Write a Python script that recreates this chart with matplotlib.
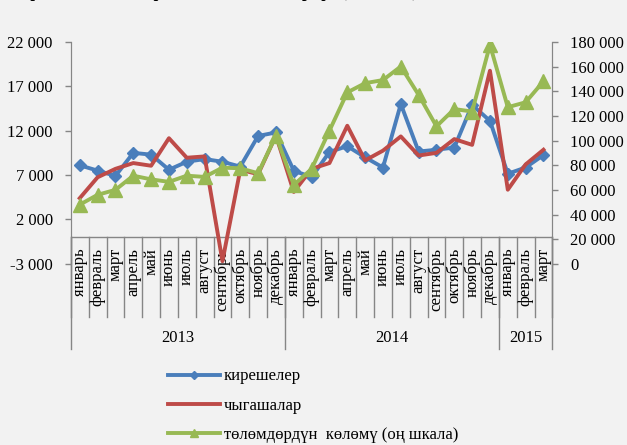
import matplotlib.pyplot as plt
from matplotlib.ticker import FuncFormatter

plt.rcParams['font.family'] = ['Liberation Serif', 'DejaVu Serif']

# months Jan 2013 - Mar 2015
months = ['январь', 'февраль', 'март', 'апрель', 'май', 'июнь', 'июль', 'август',
          'сентябрь', 'октябрь', 'ноябрь', 'декабрь',
          'январь', 'февраль', 'март', 'апрель', 'май', 'июнь', 'июль', 'август',
          'сентябрь', 'октябрь', 'ноябрь', 'декабрь',
          'январь', 'февраль', 'март']
years = ['2013', '2014', '2015']
year_len = [12, 12, 3]

# left scale
income = [8100, 7500, 6900, 9500, 9300, 7600, 8500, 8800, 8500, 7950, 11400, 11800,
          7500, 6750, 9600, 10250, 9000, 7850, 15000, 9650, 9850, 10100, 14900, 13100,
          7150, 7850, 9250]
expense = [4400, 6750, 7700, 8350, 8050, 11150, 8950, 9100, -2700, 7600, 7100, 11450,
           5100, 7700, 8350, 12550, 8650, 9750, 11350, 9200, 9500, 11050, 10400, 18750,
           5350, 8200, 9850]
# right scale
payments = [48000, 56000, 60000, 71500, 68500, 66500, 71500, 70500, 78000, 77500, 73500, 104000,
            64000, 77000, 108000, 139000, 146500, 149000, 160000, 137000, 111500, 125500, 123500, 177500,
            127000, 131000, 148000]

labels = ['кирешелер', 'чыгашалар', 'төлөмдөрдүн  көлөмү (оң шкала)']

blue = '#4A7EBB'
red = '#BE4B48'
green = '#98B954'
grey = '#868686'
bg = '#F2F2F2'

fig = plt.figure(figsize=(6.27, 4.45), dpi=100, facecolor=bg)
ax = fig.add_axes([0.113, 0.407, 0.768, 0.499])
ax2 = ax.twinx()
ax.patch.set_visible(False)
ax2.patch.set_visible(False)

x = list(range(len(months)))
l1, = ax.plot(x, income, color=blue, lw=2.8, marker='D', ms=6.5, zorder=3)
l2, = ax.plot(x, expense, color=red, lw=2.8, zorder=4)
l3, = ax2.plot(x, payments, color=green, lw=2.8, marker='^', ms=9.5, zorder=2)

ax.set_xlim(-0.5, len(months) - 0.5)
ax.set_ylim(-3000, 22000)
ax.set_yticks(range(-3000, 22001, 5000))
ax2.set_ylim(0, 180000)
ax2.set_yticks(range(0, 180001, 20000))

fmt = FuncFormatter(lambda v, p: f'{v:,.0f}'.replace(',', ' '))
for a in (ax, ax2):
    a.yaxis.set_major_formatter(fmt)
    a.tick_params(axis='y', direction='out', length=4.5, width=1, color=grey,
                  labelsize=12, pad=8.5)
    a.set_xticks([])
    for s in ('top', 'bottom'):
        a.spines[s].set_visible(False)
    a.spines['left'].set_color(grey)
    a.spines['right'].set_color(grey)

# category axis drawn at zero
ax.axhline(0, color=grey, lw=1, zorder=1)
for i in range(len(months) + 1):
    ax.plot([i - 0.5, i - 0.5], [0, -9000], color=grey, lw=1, clip_on=False, zorder=1)
edge = 0
edges = [0]
for n in year_len:
    edge += n
    edges.append(edge)
for e in edges:
    ax.plot([e - 0.5, e - 0.5], [0, -12600], color=grey, lw=1, clip_on=False, zorder=1)

for i, m in enumerate(months):
    ax.text(i, -1200, m, rotation=90, ha='center', va='top', fontsize=12, clip_on=False)
for k, yr in enumerate(years):
    c = (edges[k] + edges[k + 1]) / 2 - 0.5
    ax.text(c, -11300, yr, ha='center', va='center', fontsize=12, clip_on=False)

# title cut off at the top of the picture
fig.text(0.667, 1.006, 'Кирешелердин, чыгашалардын жана төлөмдөрдүн (млн. сом)',
         ha='right', va='baseline', fontsize=12, fontweight='bold')

fig.legend([l1, l2, l3], labels, loc='upper left', bbox_to_anchor=(0.268, 0.172),
           frameon=False, fontsize=12, handlelength=3.1, handletextpad=0.25,
           labelspacing=0.8, borderpad=0, borderaxespad=0, markerscale=0.62)

fig.savefig('out.png', dpi=100, facecolor=bg)
